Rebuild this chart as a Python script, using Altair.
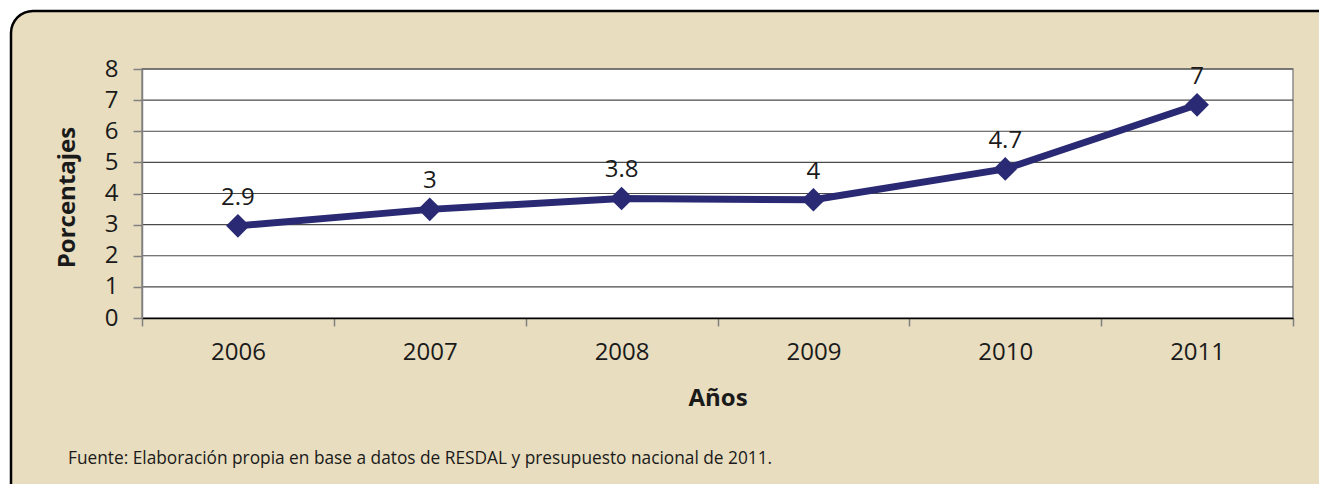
import altair as alt
import pandas as pd

years = ["2006", "2007", "2008", "2009", "2010", "2011"]
values = [2.96, 3.49, 3.84, 3.80, 4.79, 6.85]
labels = ["2.9", "3", "3.8", "4", "4.7", "7"]
y_ticks = [0, 1, 2, 3, 4, 5, 6, 7, 8]
grid_values = [1, 2, 3, 4, 5, 6, 7, 8]

x_title = "Años"
y_title = "Porcentajes"
source_text = "Fuente: Elaboración propia en base a datos de RESDAL y presupuesto nacional de 2011."

W, H = 1151, 249
FONT = "Open Sans"
TXT = "#1a1a1a"
NAVY = "#2A2A74"
BEIGE = "#E8DDBF"
R = 22
BX, BY = -131, -58

df = pd.DataFrame({"year": years, "value": values, "label": labels})
grid_df = pd.DataFrame({"g": grid_values})

x_axis = alt.Axis(
    title=x_title, titleFont=FONT, titleFontSize=24, titleFontWeight="bold", titleColor=TXT,
    titleBaseline="middle", titleY=80, titleX=W / 2, titleAlign="center",
    labelFont=FONT, labelFontSize=24, labelColor=TXT, labelAngle=0, labelBaseline="middle",
    labelPadding=26, tickBand="extent", tickSize=8, tickColor="#808080", tickWidth=1.5,
    domainColor="#000000", domainWidth=1.5, grid=False, zindex=1,
)
y_axis = alt.Axis(
    title=y_title, titleFont=FONT, titleFontSize=24, titleFontWeight="bold", titleColor=TXT,
    titleAngle=270, titleX=-75, titleY=128, titleAlign="center", titleBaseline="middle",
    values=y_ticks, labelFont=FONT, labelFontSize=24, labelColor=TXT, labelPadding=15,
    labelFlush=False, labelOverlap=False,
    tickSize=9, tickColor="#808080", tickWidth=1.5, domainColor="#808080", domainWidth=1.5,
    grid=False, zindex=1,
)
x_scale = alt.Scale(type="band", domain=years, paddingInner=0, paddingOuter=0)
y_scale = alt.Scale(domain=[0, 8], nice=False, zero=True)

x_enc = alt.X("year:N", scale=x_scale, axis=x_axis, bandPosition=0.5)
y_enc = alt.Y("value:Q", scale=y_scale, axis=y_axis)

one = alt.Data(values=[{}])

bg = alt.Chart(one).mark_rect(fill=BEIGE, cornerRadiusTopLeft=R).encode(
    x=alt.value(BX), x2=alt.value(W + 60), y=alt.value(BY), y2=alt.value(H + 200)
)
top_border = alt.Chart(one).mark_rule(color="#000000", strokeWidth=2.5).encode(
    x=alt.value(BX + R), x2=alt.value(W + 60), y=alt.value(BY)
)
left_border = alt.Chart(one).mark_rule(color="#000000", strokeWidth=2.5).encode(
    x=alt.value(BX), y=alt.value(BY + R), y2=alt.value(H + 200)
)
corner = alt.Chart(one).mark_arc(color="#000000").encode(
    x=alt.value(BX + R), y=alt.value(BY + R),
    theta=alt.value(4.7124), theta2=alt.value(6.2832),
    radius=alt.value(R + 1.25), radius2=alt.value(R - 1.25),
)
plot_bg = alt.Chart(one).mark_rect(
    fill="white", stroke="#8a8a8a", strokeWidth=1.5
).encode(
    x=alt.value(0), x2=alt.value(W), y=alt.value(0), y2=alt.value(H)
)
grid = alt.Chart(grid_df).mark_rule(color="#4a4a4a", strokeWidth=1.2).encode(
    y=alt.Y("g:Q", scale=y_scale, axis=y_axis)
)
line = alt.Chart(df).mark_line(color=NAVY, strokeWidth=7).encode(x=x_enc, y=y_enc)
points = alt.Chart(df).mark_point(
    shape="diamond", filled=True, size=560, color=NAVY, opacity=1
).encode(x=x_enc, y=y_enc)
texts = alt.Chart(df).mark_text(
    font=FONT, fontSize=24, color=TXT, dy=-28, baseline="middle", align="center"
).encode(x=x_enc, y=y_enc, text="label:N")
src = alt.Chart(one).mark_text(
    text=source_text, font=FONT, fontSize=17.3, color=TXT, align="left", baseline="middle"
).encode(x=alt.value(-74), y=alt.value(390))

chart = alt.layer(
    bg, top_border, left_border, corner, plot_bg, grid, line, points, texts, src
).properties(
    width=W, height=H, background="white",
    padding={"left": 134, "top": 61, "right": 26, "bottom": 166},
    autosize=alt.AutoSizeParams(type="none"),
).configure_view(stroke=None)

chart.save("out.html", embed_options={"renderer": "svg", "actions": False})
